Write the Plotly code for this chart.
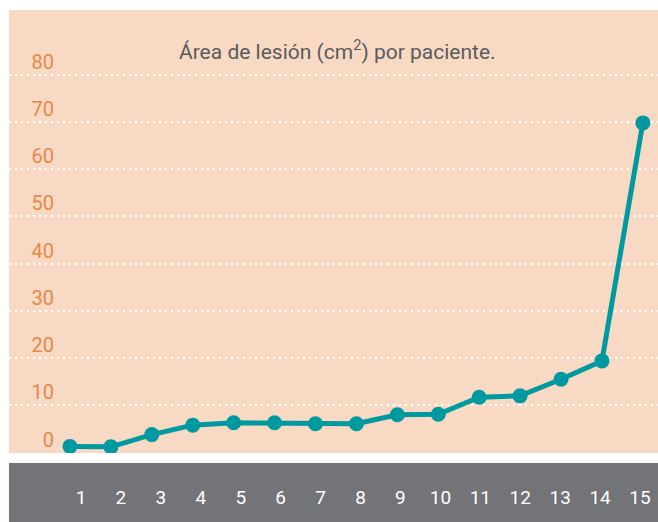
import plotly.graph_objects as go

# Data
patients = list(range(1, 16))
area_cm2 = [1.3, 1.2, 3.8, 5.8, 6.3, 6.3, 6.1, 6.1, 8.0, 8.1, 11.7, 12.0, 15.5, 19.4, 69.8]
y_ticks = [0, 10, 20, 30, 40, 50, 60, 70, 80]
title_text = "Área de lesión (cm<sup>2</sup>) por paciente."

COLORS = {
    'peach': '#F8D9C3',
    'band': '#737478',
    'line': '#00999F',
    'ylabel': '#E9874B',
    'title': '#5B5B5B',
}
FONT = "Roboto, Liberation Sans Narrow, sans-serif"
Y_RANGE = [-0.1, 93.7]

fig = go.Figure()

fig.add_trace(go.Scatter(
    x=patients,
    y=area_cm2,
    mode='lines+markers',
    line=dict(color=COLORS['line'], width=5),
    marker=dict(color=COLORS['line'], size=15),
    showlegend=False,
    hoverinfo='x+y',
))

# invisible trace so the label axes (grey band / left labels) get drawn
fig.add_trace(go.Scatter(
    x=patients, y=[None] * len(patients), xaxis='x2', yaxis='y2',
    mode='markers', showlegend=False, hoverinfo='skip',
))

fig.update_layout(
    width=658,
    height=522,
    autosize=False,
    margin=dict(l=9, r=0, t=10, b=0),
    paper_bgcolor='white',
    plot_bgcolor='white',
    font=dict(family=FONT),
    xaxis=dict(
        range=[-0.49, 15.37],
        showgrid=False, zeroline=False, showticklabels=False, showline=False,
        automargin=False, fixedrange=True,
    ),
    xaxis2=dict(
        overlaying='x', anchor='free', position=0.074,
        range=[-0.803, 15.45],
        tickvals=patients,
        ticktext=[str(p) for p in patients],
        tickfont=dict(color='white', size=19, family=FONT),
        showgrid=False, zeroline=False, showline=False, ticks='',
        automargin=False,
    ),
    yaxis=dict(
        domain=[69 / 512, 1],
        range=Y_RANGE,
        tickvals=y_ticks,
        showgrid=True,
        gridcolor='white',
        gridwidth=2,
        griddash='2px,4px',
        zeroline=False,
        showline=False,
        showticklabels=False,
        ticks='',
        automargin=False,
    ),
    yaxis2=dict(
        overlaying='y', anchor='free', side='left',
        position=(56 - 9) / 649,
        range=Y_RANGE,
        tickvals=y_ticks,
        showgrid=False, zeroline=False, showline=False, ticks='',
        ticklabelstandoff=2,
        ticklabelshift=-13,
        tickfont=dict(color=COLORS['ylabel'], size=20, family=FONT),
        automargin=False,
    ),
    shapes=[
        dict(type='rect', xref='x domain', yref='y domain', x0=0, x1=1, y0=0, y1=1,
             fillcolor=COLORS['peach'], line=dict(width=0), layer='below'),
        dict(type='rect', xref='x domain', yref='paper', x0=0, x1=1, y0=0, y1=59 / 512,
             fillcolor=COLORS['band'], line=dict(width=0), layer='below'),
    ],
    annotations=[
        dict(text=title_text, xref='paper', yref='paper', x=(337.5 - 9) / 649,
             y=1 - 40 / 512, xanchor='center', yanchor='middle',
             showarrow=False, font=dict(color=COLORS['title'], size=21, family=FONT)),
    ],
)

fig.write_html(
    "out.html",
    config={'responsive': False, 'displayModeBar': False},
    post_script="document.body.style.margin='0';",
)
